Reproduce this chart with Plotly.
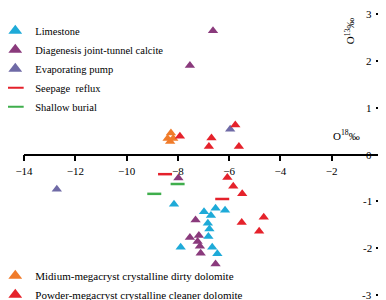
import plotly.graph_objects as go

# ---- data ----
limestone_x = [-8.15, -6.98, -6.53, -6.16, -6.71, -6.83, -6.77, -6.81, -7.89, -6.66, -6.46]
limestone_y = [-1.06, -1.22, -1.15, -1.19, -1.30, -1.47, -1.59, -1.75, -1.98, -1.98, -2.12]

diag_x = [-6.63, -7.53, -7.98, -7.31, -7.53, -7.18, -7.23, -7.14, -7.11, -6.53]
diag_y = [2.64, 1.90, -0.50, -1.40, -1.77, -1.73, -1.86, -1.96, -2.11, -2.34]

evap_x = [-12.72, -5.96]
evap_y = [-0.74, 0.54]

seep_x = [-8.50, -6.27]
seep_y = [-0.42, -0.95]

shallow_x = [-8.01, -8.92]
shallow_y = [-0.63, -0.84]

midium_x = [-8.27, -8.40, -8.18, -8.30]
midium_y = [0.46, 0.34, 0.34, 0.28]

powder_x = [-7.92, -6.69, -6.79, -5.62, -5.76, -6.07, -5.84, -5.49, -5.51, -4.65, -4.83]
powder_y = [0.39, 0.35, 0.17, 0.17, 0.63, -0.49, -0.68, -0.84, -1.45, -1.34, -1.64]

x_ticks = [-14, -12, -10, -8, -6, -4, -2]
y_ticks = [-3, -2, -1, 0, 1, 2, 3]
y_tick_labels = ["-3", "-2", "-1", "0", "1", "2", "3"]

FONT = "Liberation Serif"
TRI = 9

fig = go.Figure()

def tri(name, xs, ys, color, legend):
    fig.add_trace(go.Scatter(x=xs, y=ys, mode="markers", name=name, legend=legend,
                             marker=dict(symbol="triangle-up", size=TRI, color=color,
                                         line=dict(width=0))))

def dash(name, xs, ys, color, legend):
    fig.add_trace(go.Scatter(x=xs, y=ys, mode="markers", name=name, legend=legend,
                             marker=dict(symbol="line-ew", size=10, color=color,
                                         line=dict(width=2.5, color=color))))

tri("Limestone", limestone_x, limestone_y, "#1eaad8", "legend")
tri("Diagenesis joint-tunnel calcite", diag_x, diag_y, "#8a3a7c", "legend")
tri("Evaporating pump", evap_x, evap_y, "#6f6aa6", "legend")
dash("Seepage  reflux", seep_x, seep_y, "#e4212b", "legend")
dash("Shallow burial", shallow_x, shallow_y, "#3fae4c", "legend")
tri("Midium-megacryst crystalline dirty dolomite", midium_x, midium_y, "#f07b2a", "legend2")
tri("Powder-megacryst crystalline cleaner dolomite", powder_x, powder_y, "#e5222b", "legend2")

annotations = [
    dict(text="O<sup>18</sup>‰", x=-1.44, y=0.42, xref="x", yref="y",
         showarrow=False, font=dict(family=FONT, size=11)),
    dict(text="O<sup>13</sup>‰", x=-1.29, y=2.65, xref="x", yref="y",
         showarrow=False, textangle=-90, font=dict(family=FONT, size=11)),
]
# y tick labels on the left side of the right-hand axis
for v, lab in zip(y_ticks, y_tick_labels):
    annotations.append(dict(text=lab, x=0, y=v, xref="x", yref="y",
                            xanchor="right", yanchor="middle", xshift=-9,
                            showarrow=False, font=dict(family=FONT, size=11)))

fig.update_layout(
    width=386, height=300,
    margin=dict(l=16, r=11, t=6, b=13, pad=0, autoexpand=False),
    paper_bgcolor="white", plot_bgcolor="white",
    font=dict(family=FONT, size=11, color="black"),
    xaxis=dict(range=[-14, 0], tickvals=x_ticks, showgrid=False, zeroline=False,
               showline=True, linecolor="black", linewidth=1.8,
               ticks="outside", ticklen=6, tickwidth=1.5, tickcolor="black",
               anchor="free", position=0.5, side="bottom",
               tickfont=dict(family=FONT, size=11)),
    yaxis=dict(range=[-3, 3], tickvals=y_ticks, showgrid=False, zeroline=False,
               anchor="free", position=1.0, side="left",
               showline=True, linecolor="black", linewidth=2,
               ticks="outside", ticklen=6, tickwidth=1.5, tickcolor="black",
               showticklabels=False),
    legend=dict(x=-0.08, xanchor="left", y=0.992, yanchor="top",
                bgcolor="rgba(0,0,0,0)", font=dict(family=FONT, size=10.5),
                itemwidth=30, itemsizing="constant"),
    legend2=dict(x=-0.08, xanchor="left", y=0.12, yanchor="top",
                 bgcolor="rgba(0,0,0,0)", font=dict(family=FONT, size=11),
                 itemwidth=30, itemsizing="constant"),
    annotations=annotations,
)

fig.write_html("out.html")
